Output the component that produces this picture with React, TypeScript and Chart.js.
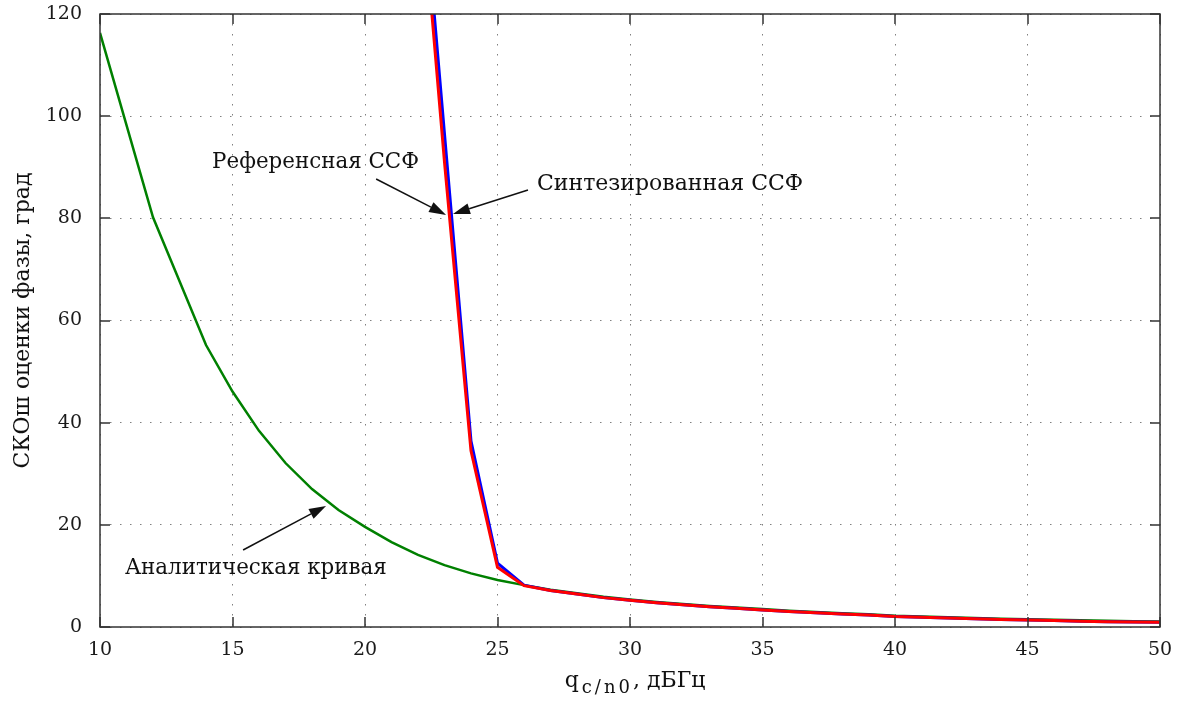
import React, { useEffect, useRef } from 'react';
import { Chart, registerables } from 'chart.js';

Chart.register(...registerables);

// ---- data ----
const analyticX = [10, 12, 14, 15, 16, 17, 18, 19, 20, 21, 22, 23, 24, 25, 26, 27, 28, 29, 30, 31, 32, 33, 34, 35, 36, 37, 38, 39, 40, 41, 42, 43, 44, 45, 46, 47, 48, 49, 50];
const analyticY = [116.3, 80.2, 55.2, 46.1, 38.4, 32.1, 27.0, 22.9, 19.6, 16.6, 14.1, 12.1, 10.5, 9.2, 8.2, 7.3, 6.6, 5.9, 5.4, 4.9, 4.5, 4.1, 3.8, 3.5, 3.2, 2.95, 2.7, 2.5, 2.2, 2.05, 1.9, 1.75, 1.6, 1.5, 1.4, 1.3, 1.2, 1.15, 1.1];

const ssfX = [22, 23, 24, 25, 26, 27, 28, 29, 30, 31, 32, 33, 34, 35, 36, 37, 38, 39, 40, 41, 42, 43, 44, 45, 46, 47, 48, 49, 50];
const referenceY = [152, 91, 34.5, 11.7, 8.1, 7.15, 6.45, 5.75, 5.25, 4.75, 4.35, 3.95, 3.65, 3.35, 3.05, 2.8, 2.55, 2.35, 2.05, 1.9, 1.75, 1.6, 1.45, 1.35, 1.25, 1.15, 1.05, 1.0, 0.95];
const synthesizedY = [157, 96.5, 36.4, 12.5, 8.2, 7.15, 6.45, 5.75, 5.25, 4.75, 4.35, 3.95, 3.65, 3.35, 3.05, 2.8, 2.55, 2.35, 2.05, 1.9, 1.75, 1.6, 1.45, 1.35, 1.25, 1.15, 1.05, 1.0, 0.95];

const xTicksStep = 5;
const yTicksStep = 20;

// annotation texts and arrows (in data units)
const notes = [
  { text: 'Референсная ССФ', x: 14.23, y: 89.9, from: [20.42, 87.7], to: [23.06, 80.66] },
  { text: 'Синтезированная ССФ', x: 26.49, y: 85.55, from: [26.15, 85.55], to: [23.32, 80.85] },
  { text: 'Аналитическая кривая', x: 10.94, y: 10.38, from: [15.4, 15.07], to: [18.53, 23.69] },
];

const FONT = 'DejaVu Serif';

const toPts = (xs: number[], ys: number[]) => xs.map((x, i) => ({ x, y: ys[i] }));

const noPad = (s: any) => {
  s.paddingTop = 0;
  s.paddingBottom = 0;
  s.paddingLeft = 0;
  s.paddingRight = 0;
};

const overlay = {
  id: 'overlay',
  afterDraw(chart: any) {
    const { ctx, chartArea: a, scales } = chart;
    const xs = scales.x;
    const ys = scales.y;
    ctx.save();
    // inner ticks
    ctx.strokeStyle = '#333';
    ctx.lineWidth = 1.5;
    const tl = 10;
    ctx.beginPath();
    xs.ticks.forEach((t: any) => {
      const p = Math.round(xs.getPixelForValue(t.value));
      ctx.moveTo(p, a.bottom); ctx.lineTo(p, a.bottom - tl);
      ctx.moveTo(p, a.top); ctx.lineTo(p, a.top + tl);
    });
    ys.ticks.forEach((t: any) => {
      const p = Math.round(ys.getPixelForValue(t.value));
      ctx.moveTo(a.left, p); ctx.lineTo(a.left + tl, p);
      ctx.moveTo(a.right, p); ctx.lineTo(a.right - tl, p);
    });
    ctx.stroke();
    // frame
    ctx.strokeRect(a.left, a.top, a.right - a.left, a.bottom - a.top);

    // annotations
    ctx.fillStyle = '#111';
    ctx.strokeStyle = '#111';
    ctx.textBaseline = 'alphabetic';
    ctx.textAlign = 'left';
    notes.forEach((n, i) => {
      ctx.font = i === 1 ? `22px "${FONT}"` : `21.4px "${FONT}"`;
      ctx.fillText(n.text, xs.getPixelForValue(n.x), ys.getPixelForValue(n.y));
      const x1 = xs.getPixelForValue(n.from[0]);
      const y1 = ys.getPixelForValue(n.from[1]);
      const x2 = xs.getPixelForValue(n.to[0]);
      const y2 = ys.getPixelForValue(n.to[1]);
      const ang = Math.atan2(y2 - y1, x2 - x1);
      const hl = 17, hw = 5.5;
      const bx = x2 - hl * Math.cos(ang);
      const by = y2 - hl * Math.sin(ang);
      ctx.lineWidth = 1.5;
      ctx.beginPath();
      ctx.moveTo(x1, y1);
      ctx.lineTo(bx, by);
      ctx.stroke();
      ctx.beginPath();
      ctx.moveTo(x2, y2);
      ctx.lineTo(bx + hw * Math.sin(ang), by - hw * Math.cos(ang));
      ctx.lineTo(bx - hw * Math.sin(ang), by + hw * Math.cos(ang));
      ctx.closePath();
      ctx.fill();
    });

    // x axis title with subscript
    const mainFont = `22px "${FONT}"`;
    const subFont = `18px "${FONT}"`;
    ctx.font = mainFont;
    const wq = ctx.measureText('q').width;
    const wRest = ctx.measureText(', дБГц').width;
    ctx.font = subFont;
    (ctx as any).letterSpacing = '3px';
    const wSub = ctx.measureText('c/n0').width;
    (ctx as any).letterSpacing = '0px';
    const total = wq + 3 + wSub + wRest;
    const cx = (a.left + a.right) / 2 + 5;
    let px = cx - total / 2;
    const base = 687;
    ctx.fillStyle = '#111';
    ctx.font = mainFont;
    ctx.fillText('q', px, base);
    px += wq + 3;
    ctx.font = subFont;
    (ctx as any).letterSpacing = '3px';
    ctx.fillText('c/n0', px, base + 6);
    (ctx as any).letterSpacing = '0px';
    px += wSub;
    ctx.font = mainFont;
    ctx.fillText(', дБГц', px, base);
    ctx.restore();
  },
};

export default function App() {
  const ref = useRef<HTMLCanvasElement>(null);
  useEffect(() => {
    document.body.style.margin = '0';
    const chart = new Chart(ref.current as HTMLCanvasElement, {
      type: 'line',
      data: {
        datasets: [
          {
            label: 'Референсная ССФ',
            data: toPts(ssfX, referenceY),
            borderColor: '#ff0000',
            borderWidth: 3,
            pointRadius: 0,
            tension: 0,
          },
          {
            label: 'Синтезированная ССФ',
            data: toPts(ssfX, synthesizedY),
            borderColor: '#0000ff',
            borderWidth: 3,
            pointRadius: 0,
            tension: 0,
          },
          {
            label: 'Аналитическая кривая',
            data: toPts(analyticX, analyticY),
            borderColor: '#008000',
            borderWidth: 2.5,
            pointRadius: 0,
            tension: 0,
          },
        ],
      },
      options: {
        responsive: false,
        animation: false,
        layout: { padding: { top: 14, right: 17, left: 0, bottom: 0 } },
        plugins: { legend: { display: false }, tooltip: { enabled: false } },
        scales: {
          x: {
            type: 'linear',
            min: 10,
            max: 50,
            afterFit: (s: any) => { s.height = 75; noPad(s); },
            ticks: { stepSize: xTicksStep, padding: 12, color: '#1a1a1a', font: { family: FONT, size: 19 } },
            grid: { color: '#808080', lineWidth: 1, drawTicks: false },
            border: { display: false, dash: [1.5, 8.5] },
          },
          y: {
            type: 'linear',
            min: 0,
            max: 120,
            afterFit: (s: any) => { s.width = 100; noPad(s); },
            ticks: { stepSize: yTicksStep, padding: 18, color: '#1a1a1a', font: { family: FONT, size: 19 } },
            grid: { color: '#808080', lineWidth: 1, drawTicks: false },
            border: { display: false, dash: [1.5, 8.5] },
            title: {
              display: true,
              text: 'СКОш оценки фазы, град',
              color: '#111',
              font: { family: FONT, size: 22 },
              padding: { top: 10, bottom: 0 },
            },
          },
        },
      },
      plugins: [overlay],
    });
    return () => chart.destroy();
  }, []);
  return (
    <div style={{ width: 1177, height: 702, background: '#fff' }}>
      <canvas ref={ref} width={1177} height={702} style={{ display: 'block' }} />
    </div>
  );
}
